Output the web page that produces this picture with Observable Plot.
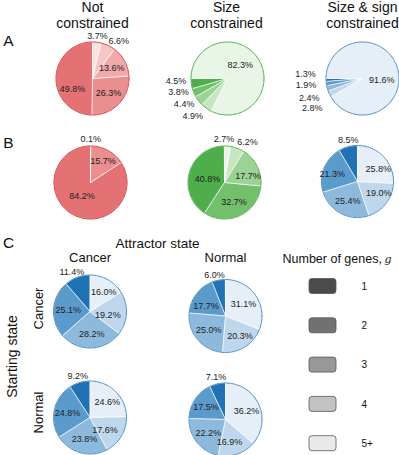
<!DOCTYPE html>
<html>
<head>
<meta charset="utf-8">
<script src="https://cdn.jsdelivr.net/npm/d3@7"></script>
<script src="https://cdn.jsdelivr.net/npm/@observablehq/plot@0.6"></script>
<style>
  html, body { margin: 0; padding: 0; background: white; }
</style>
</head>
<body>
<div id="chart"></div>
<script>
// ---------- data (percent of cases by number of genes g = 1, 2, 3, 4, 5+) ----------
const geneGroups = ["1", "2", "3", "4", "5+"];
const aNotConstrained      = [49.8, 26.3, 13.6, 6.6, 3.7];
const aSizeConstrained     = [4.5, 3.8, 4.4, 4.9, 82.3];
const aSizeSignConstrained = [1.3, 1.9, 2.4, 2.8, 91.6];
const bNotConstrained      = [84.2, 15.7, 0.1, 0, 0];
const bSizeConstrained     = [40.8, 32.7, 17.7, 6.2, 2.7];
const bSizeSignConstrained = [8.5, 21.3, 25.4, 19.0, 25.8];
const cCancerToCancer      = [11.4, 25.1, 28.2, 19.2, 16.0];
const cCancerToNormal      = [6.0, 17.7, 25.0, 20.3, 31.1];
const cNormalToCancer      = [9.2, 24.8, 23.8, 17.6, 24.6];
const cNormalToNormal      = [7.1, 17.5, 22.2, 16.9, 36.2];
const columnTitles = [["Not", "constrained"], ["Size", "constrained"], ["Size & sign", "constrained"]];
const panelLetters = ["A", "B", "C"];
const stateNames = ["Cancer", "Normal"];
const attractorTitle = "Attractor state";
const startingTitle = "Starting state";
const legendTitle = "Number of genes, ";
const legendSymbol = "g";

// ---------- styles ----------
const palettes = {
  red:   {fills: ["#e47275", "#eb8e90", "#f0aaab", "#f6c6c7", "#fbe1e1"], edge: "#d93a3e"},
  green: {fills: ["#4dae4b", "#72bf6c", "#9bd394", "#c5e6c0", "#e9f5e7"], edge: "#4dae4b"},
  blue:  {fills: ["#2171b5", "#5b9bcc", "#8dbadc", "#bfd7ec", "#e6eff8"], edge: "#4a8cc5"},
  gray:  {fills: ["#4b4b4b", "#717171", "#989898", "#c2c2c2", "#e9e9e9"], edge: "#555555"}
};

// ---------- layout ----------
const W = 399, H = 455;
const pies = [
  {values: aNotConstrained, pal: "red", cx: 92, cy: 78, r: 36.5, start: 90, out: 1.18,
   nudge: {0: [2, 11], 3: [8, 2]}},
  {values: aSizeConstrained, pal: "green", cx: 227, cy: 78, r: 36.5, start: 180, out: 1.4,
   nudge: {0: [-1, -5], 1: [-2, -6], 2: [-3, -6], 3: [-5, -4], 4: [-6, -2]}},
  {values: aSizeSignConstrained, pal: "blue", cx: 362, cy: 78, r: 36.5, start: 180, out: 1.4,
   nudge: {0: [-6, -6], 1: [-6, -1], 2: [-4, 6], 3: [-4, 8], 4: [-2, 7]}},
  {values: bNotConstrained, pal: "red", cx: 90, cy: 182, r: 36.5, start: 90, out: 1.18,
   nudge: {0: [2, -6], 1: [2, -2]}},
  {values: bSizeConstrained, pal: "green", cx: 224, cy: 182, r: 36.5, start: 90, out: 1.18,
   nudge: {0: [4, 3], 2: [4, 3], 3: [8, 0], 4: [-4, 0]}},
  {values: bSizeSignConstrained, pal: "blue", cx: 357, cy: 181, r: 36, start: 90, out: 1.18,
   nudge: {0: [2, 0], 1: [-5, 0], 3: [4, -1], 4: [5, 2]}},
  {values: cCancerToCancer, pal: "blue", cx: 89.5, cy: 311, r: 36.5, start: 90, out: 1.18,
   nudge: {0: [-3, 1], 2: [1, 1], 3: [-4, 3], 4: [3, 0]}},
  {values: cCancerToNormal, pal: "blue", cx: 225, cy: 315.5, r: 36.5, start: 90, out: 1.18,
   nudge: {0: [-3, 1], 1: [-2, 3], 3: [3, 2]}},
  {values: cNormalToCancer, pal: "blue", cx: 89.5, cy: 417, r: 36.5, start: 90, out: 1.18,
   nudge: {1: [-1, 0], 3: [-4, 2], 4: [2, 0]}},
  {values: cNormalToNormal, pal: "blue", cx: 225, cy: 419, r: 36.5, start: 90, out: 1.18,
   nudge: {1: [-1, 0], 3: [-3, 2], 4: [1, 1]}}
];

const sliceRows = [], outlineRows = [], pctRows = [];
pies.forEach((pie, p) => {
  const pal = palettes[pie.pal];
  let cum = 0;
  pie.values.forEach((v, i) => {
    const a0 = pie.start + cum * 3.6, a1 = a0 + v * 3.6;
    cum += v;
    if (v <= 0) return;
    const id = p + "-" + i, color = pal.fills[i];
    sliceRows.push({id, px: pie.cx, py: pie.cy, color});
    const n = Math.max(2, Math.ceil((a1 - a0) / 2));
    for (let k = 0; k <= n; k++) {
      const t = (a0 + (a1 - a0) * k / n) * Math.PI / 180;
      sliceRows.push({id, px: pie.cx + pie.r * Math.cos(t), py: pie.cy - pie.r * Math.sin(t), color});
    }
    sliceRows.push({id, px: pie.cx, py: pie.cy, color});
    // percentage label
    const mid = (a0 + a1) / 2 * Math.PI / 180;
    const f = v < 12 ? pie.out : 0.6;
    const nd = (pie.nudge && pie.nudge[i]) || [0, 0];
    pctRows.push({
      px: pie.cx + f * pie.r * Math.cos(mid) + nd[0],
      py: pie.cy - f * pie.r * Math.sin(mid) + nd[1],
      label: v.toFixed(1) + "%"
    });
  });
  for (let k = 0; k <= 180; k++) {
    const t = k * 2 * Math.PI / 180;
    outlineRows.push({id: "o" + p, px: pie.cx + pie.r * Math.cos(t), py: pie.cy - pie.r * Math.sin(t), color: pal.edge});
  }
});

// header / annotation texts
const colCenters = [92, 226, 362];
const headerRows = [];
columnTitles.forEach((lines, j) => {
  lines.forEach((t, k) => headerRows.push({px: colCenters[j], py: 7 + k * 16.5, label: t}));
});
const letterRows = panelLetters.map((t, i) => ({px: 8, py: [41, 143, 243][i], label: t}));
const stateColRows = stateNames.map((t, i) => ({px: [89.5, 225][i], py: 257.5, label: t}));
const stateRowRows = stateNames.map((t, i) => ({px: 38.5, py: [308, 412][i], label: t}));

// legend
const legendRows = geneGroups.map((g, i) => {
  const yc = 286 + i * 39.3;
  return {x1: 309, x2: 336, y1: yc - 7.5, y2: yc + 7.5, yc, label: g, color: palettes.gray.fills[i]};
});

const chart = Plot.plot({
  width: W,
  height: H,
  margin: 0,
  x: {domain: [0, W], range: [0, W], axis: null},
  y: {domain: [0, H], range: [0, H], axis: null},
  color: {type: "identity"},
  style: {fontFamily: "'Liberation Sans', Arial, sans-serif", background: "white", overflow: "visible"},
  marks: [
    Plot.line(sliceRows, {x: "px", y: "py", z: "id", fill: "color", stroke: "white", strokeWidth: 0.6, curve: "linear"}),
    Plot.line(outlineRows, {x: "px", y: "py", z: "id", stroke: "color", strokeWidth: 1, curve: "linear"}),
    Plot.text(pctRows, {x: "px", y: "py", text: "label", fontSize: 9, fill: "#222"}),
    Plot.text(headerRows, {x: "px", y: "py", text: "label", fontSize: 14, fill: "#111"}),
    Plot.text(letterRows, {x: "px", y: "py", text: "label", fontSize: 15.5, fill: "#111"}),
    Plot.text([attractorTitle], {x: () => 157, y: () => 243.5, text: d => d, fontSize: 13.5, fill: "#111"}),
    Plot.text(stateColRows, {x: "px", y: "py", text: "label", fontSize: 13, fill: "#111"}),
    Plot.text(stateRowRows, {x: "px", y: "py", text: "label", fontSize: 13, fill: "#111", rotate: -90}),
    Plot.text([startingTitle], {x: () => 12, y: () => 356, text: d => d, fontSize: 14, fill: "#111", rotate: -90}),
    Plot.text([legendTitle], {x: () => 282, y: () => 258, text: d => d, fontSize: 12.5, fill: "#111", textAnchor: "start"}),
    Plot.text([legendSymbol], {x: () => 384, y: () => 259, text: d => d, fontSize: 11, fill: "#111", textAnchor: "start", fontStyle: "italic", fontFamily: "'DejaVu Serif', serif"}),
    Plot.rect(legendRows, {x1: "x1", x2: "x2", y1: "y1", y2: "y2", fill: "color", stroke: "#555", strokeWidth: 0.8, rx: 3}),
    Plot.text(legendRows, {x: () => 361, y: "yc", text: "label", fontSize: 10, fill: "#111", textAnchor: "start"})
  ]
});
document.getElementById("chart").appendChild(chart);
</script>
</body>
</html>
